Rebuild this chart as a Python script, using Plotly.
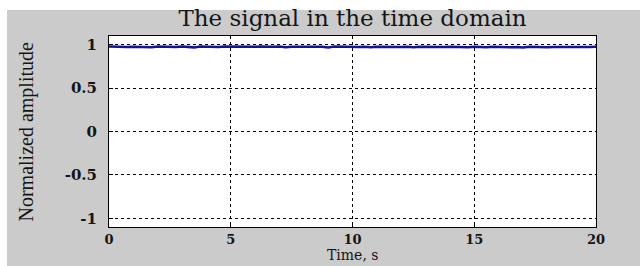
import plotly.graph_objects as go

# Time axis samples (s) and normalized amplitude
time_s = [i * 0.25 for i in range(81)]
amplitude = [
    0.978, 0.975, 0.979, 0.972, 0.977, 0.976, 0.979, 0.970, 0.978, 0.975,
    0.977, 0.973, 0.979, 0.976, 0.969, 0.978, 0.975, 0.977, 0.972, 0.978,
    0.976, 0.979, 0.971, 0.977, 0.975, 0.978, 0.973, 0.976, 0.979, 0.970,
    0.977, 0.975, 0.978, 0.972, 0.977, 0.976, 0.968, 0.978, 0.975, 0.977,
    0.974, 0.972, 0.976, 0.970, 0.975, 0.973, 0.977, 0.969, 0.974, 0.976,
    0.971, 0.975, 0.973, 0.976, 0.968, 0.974, 0.977, 0.972, 0.975, 0.970,
    0.976, 0.973, 0.969, 0.975, 0.972, 0.976, 0.970, 0.974, 0.968, 0.975,
    0.972, 0.976, 0.970, 0.974, 0.973, 0.975, 0.969, 0.976, 0.972, 0.974,
    0.975,
]
x_ticks = [0, 5, 10, 15, 20]
y_ticks = [-1, -0.5, 0, 0.5, 1]
y_tick_labels = ["-1", "-0.5", "0", "0.5", "1"]

title_text = "The signal in the time domain"
x_title = "Time, s"
y_title = "Normalized amplitude"

GRAY = "#cbcbcb"
SERIF = "Liberation Serif, Times New Roman, serif"
WIDE_SERIF = "DejaVu Serif, serif"

fig = go.Figure()
fig.add_trace(go.Scatter(
    x=time_s, y=amplitude, mode="lines",
    line=dict(color="#1212a0", width=2.5),
    showlegend=False,
))

axis_common = dict(
    showline=True, linecolor="black", linewidth=1, mirror=True,
    showgrid=True, gridcolor="black", gridwidth=1, griddash="dot",
    zeroline=False, ticks="inside", ticklen=4, tickcolor="black",
)
tick_font = dict(family=WIDE_SERIF, size=15, color="#151515", weight="bold")

PLOT_L, PLOT_R, PLOT_T, PLOT_B = 109, 596, 36, 227
PW = PLOT_R - PLOT_L
PH = PLOT_B - PLOT_T

fig.update_layout(
    width=640, height=266,
    margin=dict(l=PLOT_L, r=640 - PLOT_R, t=PLOT_T, b=266 - PLOT_B, autoexpand=False),
    paper_bgcolor=GRAY, plot_bgcolor="white",
    title=dict(text=title_text, x=0.5, xref="paper", y=1 - 18 / 266, yref="container",
               yanchor="middle",
               font=dict(family=WIDE_SERIF, size=23, color="#151515")),
    xaxis=dict(range=[0, 20], tickvals=x_ticks, ticklabelstandoff=0,
               tickfont=dict(tick_font, size=13), **axis_common),
    yaxis=dict(range=[-1.1, 1.1], tickvals=y_ticks, ticktext=y_tick_labels,
               ticklabelstandoff=8, tickfont=tick_font, **axis_common),
    shapes=[
        dict(type="rect", xref="paper", yref="paper", x0=-0.3, x1=(7 - PLOT_L) / PW,
             y0=-0.3, y1=1.3, fillcolor="white", line=dict(width=0), layer="above"),
        dict(type="rect", xref="paper", yref="paper", x0=-0.3, x1=1.2,
             y0=(PLOT_B - 10) / PH, y1=1.3, fillcolor="white", line=dict(width=0), layer="above"),
    ],
    annotations=[
        dict(text=x_title, xref="paper", yref="paper", x=0.5, y=(PLOT_B - 265) / PH,
             showarrow=False, yanchor="bottom",
             font=dict(family=WIDE_SERIF, size=14, color="#151515")),
        dict(text=y_title, xref="paper", yref="paper", x=(26 - PLOT_L) / PW, y=0.5,
             showarrow=False, textangle=-90, xanchor="center",
             font=dict(family=SERIF, size=20, color="#151515")),
    ],
)

fig.write_html("out.html", config={"displayModeBar": False},
               post_script="document.body.style.margin='0';")
